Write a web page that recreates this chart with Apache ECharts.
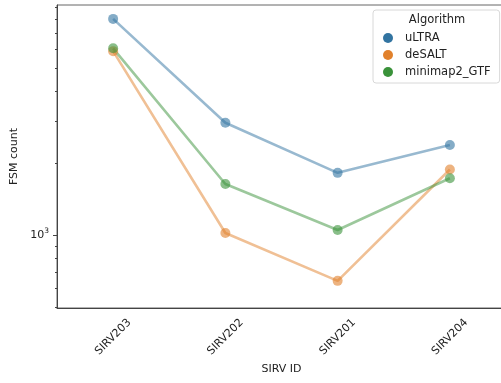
<!DOCTYPE html>
<html>
<head>
<meta charset="utf-8">
<script src="https://cdn.jsdelivr.net/npm/echarts@6/dist/echarts.min.js"></script>
<style>
  html, body { margin: 0; padding: 0; background: #fff; }
  #chart { width: 501px; height: 383px; }
</style>
</head>
<body>
<div id="chart"></div>
<script>
// SIRV transcripts on the x axis
const sirvIds = ['SIRV203', 'SIRV202', 'SIRV201', 'SIRV204'];

// FSM counts per aligner
const ultra = [8020, 2950, 1820, 2380];
const desalt = [5880, 1020, 643, 1880];
const minimap2Gtf = [6040, 1634, 1049, 1727];

// log-axis tick values
const majorTicks = [1000];
const minorTicks = [500, 600, 700, 800, 900, 2000, 3000, 4000, 5000, 6000, 7000, 8000, 9000];
const yMin = 495;
const yMax = 9170;

// muted categorical palette
const colors = ['#3274a1', '#e1812c', '#3a923a'];
const font = 'DejaVu Sans';
const spine = '#444';

function pointSeries(name, data, color) {
  return {
    name: name,
    type: 'line',
    data: data,
    symbol: 'circle',
    symbolSize: 10,
    color: color,
    lineStyle: { width: 2.6, opacity: 0.5 },
    itemStyle: { opacity: 0.6 },
    emphasis: { disabled: true },
    animation: false
  };
}

const chart = echarts.init(document.getElementById('chart'), null, { renderer: 'canvas' });
chart.setOption({
  animation: false,
  grid: {
    left: 57, width: 449, top: 5, bottom: 75,
    outerBoundsMode: 'none',
    containLabel: false,
    show: true, borderColor: '#666', borderWidth: 1
  },
  xAxis: {
    type: 'category',
    data: sirvIds,
    boundaryGap: true,
    name: 'SIRV ID',
    nameLocation: 'middle',
    nameGap: 56,
    nameTextStyle: { fontFamily: font, fontSize: 11, color: '#222' },
    axisLine: { lineStyle: { color: spine, width: 1 } },
    axisTick: { alignWithLabel: true, length: 4, lineStyle: { color: spine } },
    axisLabel: {
      rotate: 45, align: 'center', verticalAlign: 'middle', margin: 29,
      fontFamily: font, fontSize: 11, color: '#222'
    },
    splitLine: { show: false }
  },
  yAxis: [
    {
      type: 'log',
      logBase: 10,
      min: yMin, max: yMax,
      name: 'FSM count',
      nameLocation: 'middle',
      nameGap: 26,
      nameTextStyle: { fontFamily: font, fontSize: 11, color: '#222' },
      axisLine: { show: true, lineStyle: { color: spine, width: 1 } },
      axisTick: { show: true, length: 4, customValues: majorTicks, lineStyle: { color: spine } },
      axisLabel: {
        customValues: majorTicks,
        margin: 8,
        formatter: function (v) {
          const e = Math.round(Math.log10(v));
          return '{b|10}{s|' + e + '}';
        },
        rich: {
          b: { fontFamily: font, fontSize: 11, color: '#222' },
          s: { fontFamily: font, fontSize: 7.5, color: '#222', verticalAlign: 'bottom', padding: [0, 0, 8, 0] }
        }
      },
      splitLine: { show: false }
    },
    {
      type: 'log',
      logBase: 10,
      min: yMin, max: yMax,
      position: 'left',
      axisLine: { show: false },
      axisTick: { show: true, length: 2, customValues: minorTicks, lineStyle: { color: spine } },
      axisLabel: { show: false },
      splitLine: { show: false }
    }
  ],
  legend: {
    orient: 'vertical',
    left: 373,
    top: 10,
    padding: [22, 9, 5, 10],
    itemGap: 5,
    itemWidth: 20,
    itemHeight: 10,
    icon: 'circle',
    backgroundColor: '#fff',
    borderColor: '#d8d8d8',
    borderWidth: 1,
    borderRadius: 3,
    itemStyle: { opacity: 1 },
    textStyle: { fontFamily: font, fontSize: 11.5, color: '#222', padding: [0, 0, 0, 2] },
    data: ['uLTRA', 'deSALT', 'minimap2_GTF']
  },
  graphic: [
    {
      type: 'text',
      x: 437, y: 20, z: 100,
      style: {
        text: 'Algorithm', align: 'center', verticalAlign: 'middle',
        font: '11.5px "DejaVu Sans"', fill: '#222'
      }
    }
  ],
  series: [
    pointSeries('uLTRA', ultra, colors[0]),
    pointSeries('deSALT', desalt, colors[1]),
    pointSeries('minimap2_GTF', minimap2Gtf, colors[2])
  ]
});
</script>
</body>
</html>
